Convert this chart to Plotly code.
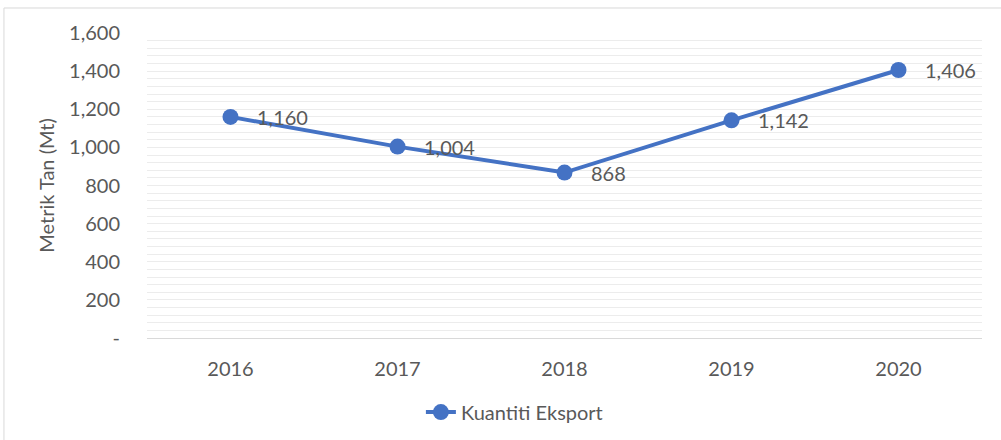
import plotly.graph_objects as go

years = ["2016", "2017", "2018", "2019", "2020"]
quantity = [1160, 1004, 868, 1142, 1406]
labels = ["1,160", "1,004", "868", "1,142", "1,406"]
ytick_vals = [0, 200, 400, 600, 800, 1000, 1200, 1400, 1600]
ytick_text = ["-", "200", "400", "600", "800", "1,000", "1,200", "1,400", "1,600"]
series_name = "Kuantiti Eksport"

FONT = "Lato"
GRAY = "#595959"
BLUE = "#4472C4"
FS = 20

fig = go.Figure()
fig.add_trace(go.Scatter(
    x=years, y=quantity, mode="lines+markers", name=series_name,
    line=dict(color=BLUE, width=4),
    marker=dict(color=BLUE, size=16),
    cliponaxis=False,
))

for i, (val, lab) in enumerate(zip(quantity, labels)):
    fig.add_annotation(x=i, y=val, xref="x", yref="y", text=lab, showarrow=False,
                       xanchor="left", yanchor="middle", xshift=24, yshift=0,
                       font=dict(family=FONT, size=FS, color=GRAY))

fig.update_layout(
    width=1001, height=440,
    margin=dict(l=147, r=19, t=33, b=102, autoexpand=False),
    paper_bgcolor="white", plot_bgcolor="white",
    font=dict(family=FONT, size=FS, color=GRAY),
    showlegend=True,
    legend=dict(orientation="h", x=0.44, xanchor="center", y=-0.243, yanchor="middle",
                font=dict(family=FONT, size=FS, color=GRAY)),
    xaxis=dict(type="category", range=[-0.5, 4.5], showgrid=False, showline=False,
               zeroline=False, ticks="", ticklabelstandoff=17,
               tickfont=dict(size=FS, color=GRAY)),
    yaxis=dict(range=[0, 1600], tickvals=ytick_vals, ticktext=ytick_text,
               showgrid=True, gridcolor="#ececec", gridwidth=1,
               minor=dict(dtick=40, showgrid=True, gridcolor="#ececec", gridwidth=1),
               zeroline=True, zerolinecolor="#d9d9d9", zerolinewidth=1,
               showline=False, ticks="", ticklabelstandoff=26,
               tickfont=dict(size=FS, color=GRAY),
               title=dict(text="Metrik Tan (Mt)", font=dict(size=FS, color=GRAY), standoff=9)),
)

fig.add_shape(type="rect", xref="paper", yref="paper", x0=-0.1713, x1=1.0275, y0=-0.35, y1=1.082,
              line=dict(color="#d9d9d9", width=1), fillcolor="rgba(0,0,0,0)", layer="below")

fig.write_html("out.html")
